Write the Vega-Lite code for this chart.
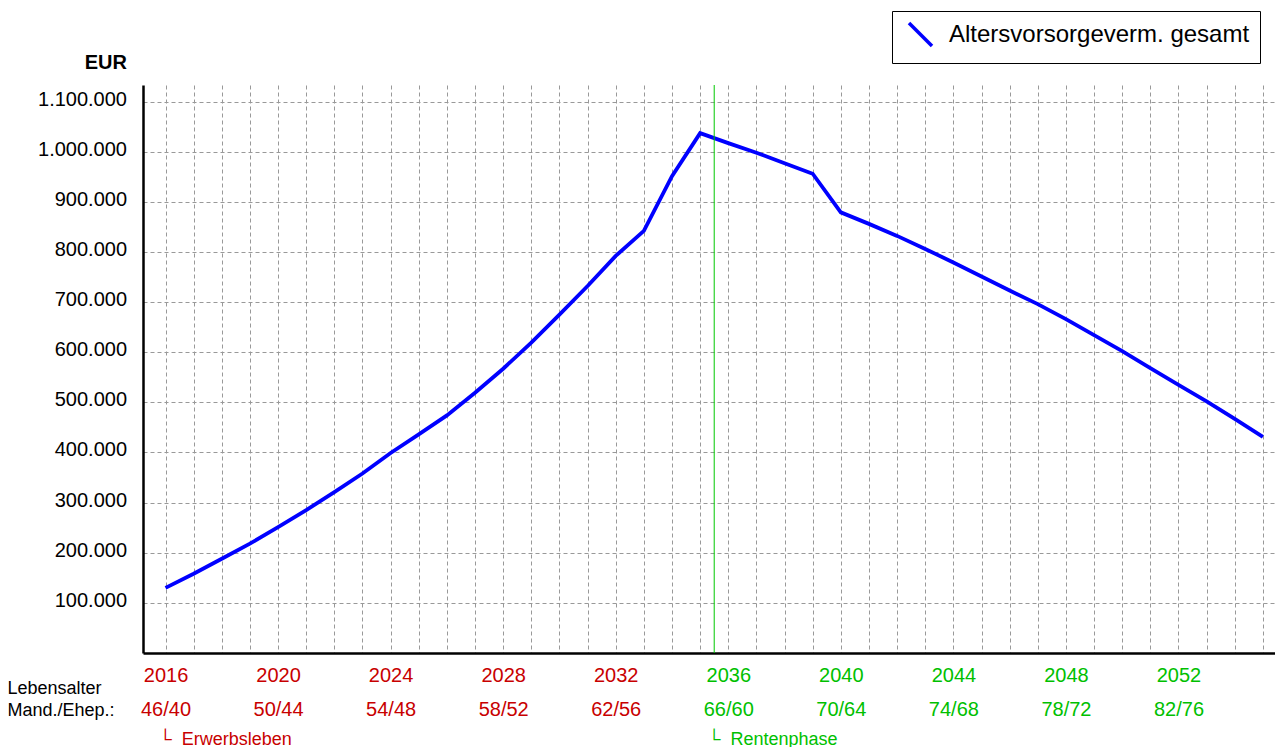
{
  "$schema": "https://vega.github.io/schema/vega-lite/v6.json",
  "width": 1132,
  "height": 568,
  "autosize": {"type": "none"},
  "padding": {"left": 143, "top": 85, "right": 0, "bottom": 94},
  "background": "white",
  "config": {"font": "Liberation Sans", "view": {"stroke": null}},
  "layer": [
    {
      "data": {
        "values": [
          {"Jahr": 2016, "Wert": 130000, "Reihe": "Altersvorsorgeverm. gesamt"},
          {"Jahr": 2017, "Wert": 158000, "Reihe": "Altersvorsorgeverm. gesamt"},
          {"Jahr": 2018, "Wert": 188000, "Reihe": "Altersvorsorgeverm. gesamt"},
          {"Jahr": 2019, "Wert": 218000, "Reihe": "Altersvorsorgeverm. gesamt"},
          {"Jahr": 2020, "Wert": 251000, "Reihe": "Altersvorsorgeverm. gesamt"},
          {"Jahr": 2021, "Wert": 285000, "Reihe": "Altersvorsorgeverm. gesamt"},
          {"Jahr": 2022, "Wert": 321000, "Reihe": "Altersvorsorgeverm. gesamt"},
          {"Jahr": 2023, "Wert": 358000, "Reihe": "Altersvorsorgeverm. gesamt"},
          {"Jahr": 2024, "Wert": 399000, "Reihe": "Altersvorsorgeverm. gesamt"},
          {"Jahr": 2025, "Wert": 436000, "Reihe": "Altersvorsorgeverm. gesamt"},
          {"Jahr": 2026, "Wert": 474000, "Reihe": "Altersvorsorgeverm. gesamt"},
          {"Jahr": 2027, "Wert": 519000, "Reihe": "Altersvorsorgeverm. gesamt"},
          {"Jahr": 2028, "Wert": 567000, "Reihe": "Altersvorsorgeverm. gesamt"},
          {"Jahr": 2029, "Wert": 619000, "Reihe": "Altersvorsorgeverm. gesamt"},
          {"Jahr": 2030, "Wert": 675000, "Reihe": "Altersvorsorgeverm. gesamt"},
          {"Jahr": 2031, "Wert": 732000, "Reihe": "Altersvorsorgeverm. gesamt"},
          {"Jahr": 2032, "Wert": 792000, "Reihe": "Altersvorsorgeverm. gesamt"},
          {"Jahr": 2033, "Wert": 842000, "Reihe": "Altersvorsorgeverm. gesamt"},
          {"Jahr": 2034, "Wert": 951000, "Reihe": "Altersvorsorgeverm. gesamt"},
          {"Jahr": 2035, "Wert": 1037000, "Reihe": "Altersvorsorgeverm. gesamt"},
          {"Jahr": 2036, "Wert": 1017000, "Reihe": "Altersvorsorgeverm. gesamt"},
          {"Jahr": 2037, "Wert": 998000, "Reihe": "Altersvorsorgeverm. gesamt"},
          {"Jahr": 2038, "Wert": 977000, "Reihe": "Altersvorsorgeverm. gesamt"},
          {"Jahr": 2039, "Wert": 956000, "Reihe": "Altersvorsorgeverm. gesamt"},
          {"Jahr": 2040, "Wert": 879000, "Reihe": "Altersvorsorgeverm. gesamt"},
          {"Jahr": 2041, "Wert": 856000, "Reihe": "Altersvorsorgeverm. gesamt"},
          {"Jahr": 2042, "Wert": 832000, "Reihe": "Altersvorsorgeverm. gesamt"},
          {"Jahr": 2043, "Wert": 806000, "Reihe": "Altersvorsorgeverm. gesamt"},
          {"Jahr": 2044, "Wert": 779000, "Reihe": "Altersvorsorgeverm. gesamt"},
          {"Jahr": 2045, "Wert": 751000, "Reihe": "Altersvorsorgeverm. gesamt"},
          {"Jahr": 2046, "Wert": 723000, "Reihe": "Altersvorsorgeverm. gesamt"},
          {"Jahr": 2047, "Wert": 696000, "Reihe": "Altersvorsorgeverm. gesamt"},
          {"Jahr": 2048, "Wert": 666000, "Reihe": "Altersvorsorgeverm. gesamt"},
          {"Jahr": 2049, "Wert": 634000, "Reihe": "Altersvorsorgeverm. gesamt"},
          {"Jahr": 2050, "Wert": 602000, "Reihe": "Altersvorsorgeverm. gesamt"},
          {"Jahr": 2051, "Wert": 568000, "Reihe": "Altersvorsorgeverm. gesamt"},
          {"Jahr": 2052, "Wert": 535000, "Reihe": "Altersvorsorgeverm. gesamt"},
          {"Jahr": 2053, "Wert": 502000, "Reihe": "Altersvorsorgeverm. gesamt"},
          {"Jahr": 2054, "Wert": 467000, "Reihe": "Altersvorsorgeverm. gesamt"},
          {"Jahr": 2055, "Wert": 431000, "Reihe": "Altersvorsorgeverm. gesamt"}
        ]
      },
      "mark": {"type": "line", "strokeWidth": 3.8, "strokeJoin": "miter"},
      "encoding": {
        "x": {
          "field": "Jahr",
          "type": "quantitative",
          "scale": {"domain": [2015.2, 2055.43], "nice": false, "zero": false},
          "axis": {
            "tickCount": 40,
            "grid": true,
            "gridDash": [4, 3],
            "gridColor": "#999999",
            "gridWidth": 1,
            "domainColor": "black",
            "domainWidth": 2.5,
            "ticks": false,
            "labelExpr": "(datum.value - 2016) % 4 == 0 ? [format(datum.value, 'd'), format(datum.value - 1970, 'd') + '/' + format(datum.value - 1976, 'd')] : ''",
            "labelFontSize": 20,
            "labelBaseline": "alphabetic",
            "labelPadding": 28,
            "labelLineHeight": 34.5,
            "labelColor": {"condition": {"test": "datum.value < 2035.5", "value": "#c80000"}, "value": "#00c000"},
            "labelOverlap": false,
            "labelFlush": false,
            "labelBound": false,
            "title": ["Lebensalter", "Mand./Ehep.:"],
            "titleFontSize": 18,
            "titleFontWeight": "normal",
            "titleColor": "black",
            "titleAlign": "left",
            "titleBaseline": "alphabetic",
            "titleX": -136,
            "titleY": 40,
            "titleLineHeight": 22
          }
        },
        "y": {
          "field": "Wert",
          "type": "quantitative",
          "scale": {"domain": [0, 1133000], "nice": false},
          "axis": {
            "values": [100000, 200000, 300000, 400000, 500000, 600000, 700000, 800000, 900000, 1000000, 1100000],
            "grid": true,
            "gridDash": [4, 3],
            "gridColor": "#999999",
            "gridWidth": 1,
            "domainColor": "black",
            "domainWidth": 2.5,
            "ticks": false,
            "labelExpr": "replace(format(datum.value, ',d'), /,/g, '.')",
            "labelFontSize": 20,
            "labelPadding": 16.5,
            "labelOffset": -2.5,
            "labelColor": "black",
            "title": "EUR",
            "titleAngle": 0,
            "titleFontSize": 20,
            "titleFontWeight": "bold",
            "titleColor": "black",
            "titleAlign": "right",
            "titleBaseline": "alphabetic",
            "titleX": -16.5,
            "titleY": -17
          }
        },
        "color": {
          "field": "Reihe",
          "type": "nominal",
          "scale": {"range": ["#0000ff"]},
          "legend": {
            "orient": "none",
            "legendX": 749,
            "legendY": -74,
            "title": null,
            "symbolType": "M-1,-1L1,1",
            "symbolSize": 529,
            "symbolStrokeWidth": 3.5,
            "symbolOffset": 5,
            "labelFontSize": 24,
            "labelColor": "black",
            "labelLimit": 600,
            "labelOffset": 15,
            "labelExpr": "datum.label + '\u2007\u2007\u2007\u2007'",
            "strokeColor": "black",
            "fillColor": "white",
            "padding": 10
          }
        }
      }
    },
    {
      "data": {"values": [{"Jahr": 2035.5, "Phase": "Rentenbeginn"}]},
      "mark": {"type": "rule", "color": "#00c800", "strokeWidth": 1},
      "encoding": {
        "x": {
          "field": "Jahr",
          "type": "quantitative",
          "axis": {
            "orient": "bottom",
            "values": [2016, 2035.5],
            "grid": false,
            "domain": false,
            "ticks": false,
            "labelExpr": "datum.value == 2016 ? '└\u00a0\u00a0Erwerbsleben' : '└\u00a0\u00a0Rentenphase'",
            "labelAlign": "left",
            "labelBaseline": "alphabetic",
            "labelOffset": -7,
            "labelFontSize": 18,
            "labelPadding": 91.5,
            "labelColor": {"condition": {"test": "datum.value < 2030", "value": "#c80000"}, "value": "#00c000"},
            "labelOverlap": false,
            "labelFlush": false,
            "labelBound": false,
            "title": null
          }
        }
      }
    }
  ],
  "resolve": {"axis": {"x": "independent"}}
}
